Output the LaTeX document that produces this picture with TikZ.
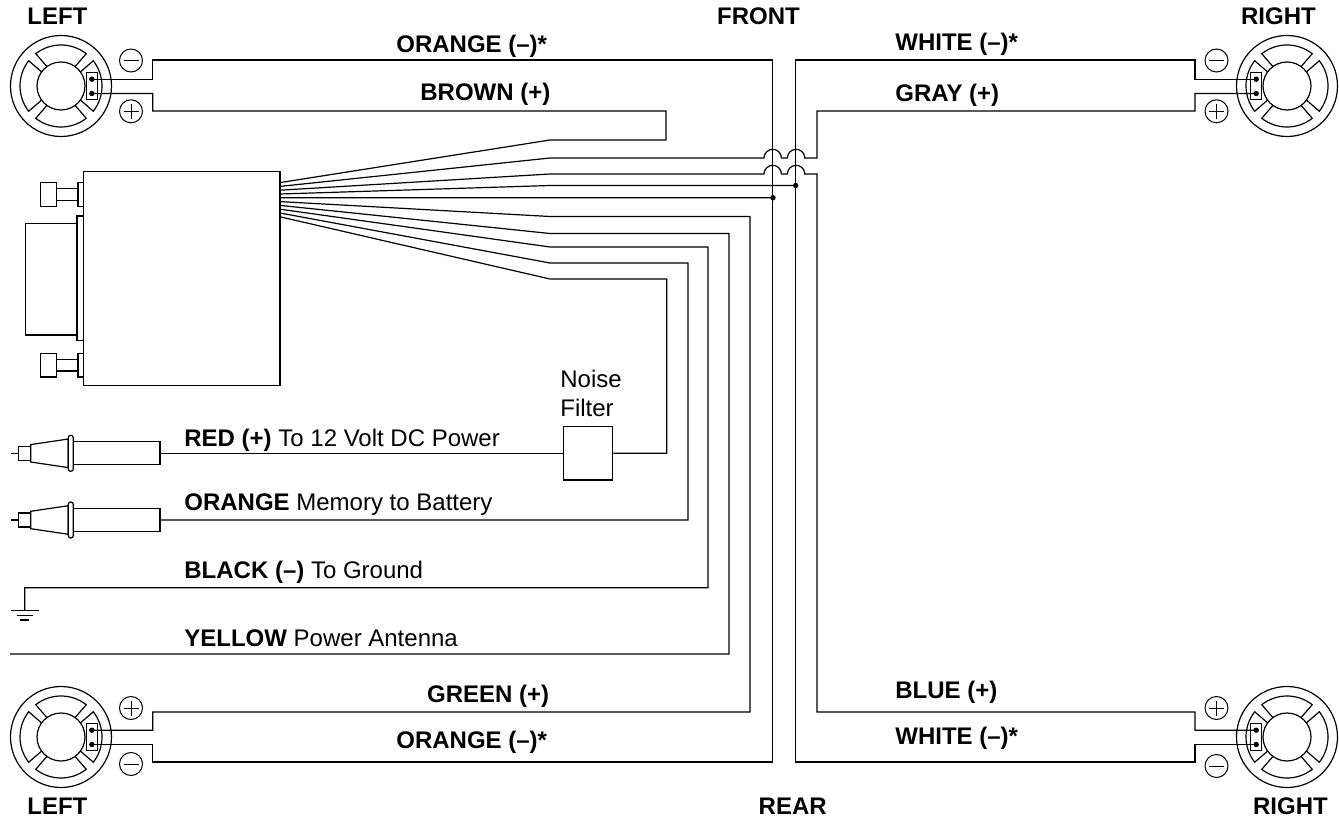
\documentclass[tikz,border=0pt]{standalone}
\usepackage{fontspec}
\setmainfont{Liberation Sans}
\usetikzlibrary{positioning}
\tikzset{wire/.style={line width=0.6pt}}
\tikzset{part/.style={line width=0.6pt, fill=white}}
\tikzset{lbl/.style={anchor=base west, inner sep=0pt, font=\fontsize{12}{14}\selectfont}}
\tikzset{polarity/.style={line width=0.5pt}}
\tikzset{speaker/.pic={
        \draw[wire] (0, 0) circle [radius = 50.5];
        \draw[wire] (0, 0) circle [radius = 24];
        \foreach \angle in {0, 90, 180, 270} {
            \draw[wire] (\angle+36:24) -- (\angle+38:41) arc [start angle=\angle+38, end angle=\angle-38, radius=41] -- (\angle-36:24);
        }
        \draw[part] (25.7, -13.3) rectangle (36.3, 13.3);
        \fill (30.8, -6.8) circle [radius = 2.7] coordinate (-a);
        \fill (30.8, 7.5) circle [radius = 2.7] coordinate (-b);
    }}
\tikzset{minus sign/.pic={
        \draw[polarity] (0, 0) circle [radius = 11.5];
        \draw[polarity] (-7.5, 0) -- (7.5, 0);
    }}
\tikzset{plus sign/.pic={
        \draw[polarity] (0, 0) circle [radius = 11.5];
        \draw[polarity] (-7.5, 0) -- (7.5, 0);
        \draw[polarity] (0, -7.5) -- (0, 7.5);
    }}
\tikzset{plug/.pic={
        \draw[wire] (-7.7, 0) -- (0, 0);
        \draw[part] (0, -7) rectangle (12.4, 7);
        \draw[part] (12.4, -8.7) -- (50, -14.3) -- (50, 14.3) -- (12.4, 8.7) -- cycle;
        \draw[part] (55, -11.5) rectangle (141.7, 11.5);
        \draw[part, rounded corners=1.2pt] (50, -18) rectangle (55, 18);
    }}
\tikzset{knob/.pic={
        \draw[part] (0, -11.7) rectangle (16, 11.7);
        \draw[part] (16, -5.7) rectangle (37.3, 5.7);
        \draw[part] (37.3, -11.7) rectangle (42.6, 11.7);
    }}
\begin{document}
\begin{tikzpicture}[x=0.5pt, y=-0.5pt]
    \useasboundingbox (0, 0) rectangle (1339, 818);

    % speakers
    \pic (fl) at (61, 86) {speaker};
    \pic (fr) [xscale=-1] at (1287, 86) {speaker};
    \pic (rl) at (61, 737) {speaker};
    \pic (rr) [xscale=-1] at (1287, 737) {speaker};
    \pic at (131, 60.5) {minus sign};
    \pic at (131, 111.3) {plus sign};
    \pic at (1216.5, 60.5) {minus sign};
    \pic at (1216.5, 111.3) {plus sign};
    \pic at (131, 708) {plus sign};
    \pic at (131, 764) {minus sign};
    \pic at (1216.5, 708) {plus sign};
    \pic at (1216.5, 766) {minus sign};

    % head unit
    \node[draw, line width=0.6pt, minimum width=98.35pt, minimum height=107pt, inner sep=0pt] (unit) at (181.65, 278.7) {};
    \draw[part] (25.7, 223.3) rectangle (77, 335);
    \draw[part] (77, 216) rectangle (83.3, 340.7);
    \pic at (40.7, 194.5) {knob};
    \pic at (40.7, 365.2) {knob};

    % noise filter and plugs
    \node[draw, line width=0.6pt, minimum width=24.7pt, minimum height=26.65pt, inner sep=0pt] (filter) at (588, 453.3) {};
    \pic at (18.3, 453.3) {plug};
    \pic at (18.3, 520) {plug};

    % fan of wires
    \coordinate (jmpa) at (764, 158);
    \coordinate (jmpb) at (764, 174);
    \draw[wire] (280, 182.6) -- (550, 140) -| (666, 111) -- (152.7, 111) |- (fl-b);
    \draw[wire] (280, 186.4) -- (550, 158) -- (jmpa) arc [start angle=180, end angle=360, radius=8.7] -- ++(6, 0) arc [start angle=180, end angle=360, radius=8.7] -- (817, 158) |- (1195, 111) |- (fr-b);
    \draw[wire] (280, 190.2) -- (550, 174) -- (jmpb) arc [start angle=180, end angle=360, radius=8.7] -- ++(6, 0) arc [start angle=180, end angle=360, radius=8.7] -- (817, 174) |- (1195, 712) |- (rr-a);
    \draw[wire] (280, 194) -- (550, 185.5) -- (795.7, 185.5) coordinate (tapr);
    \draw[wire] (280, 197.8) -- (550, 197.7) -- (773, 197.7) coordinate (tapl);
    \draw[wire] (280, 201.6) -- (550, 216.5) -| (750, 712) -- (152.7, 712) |- (rl-a);
    \draw[wire] (280, 205.4) -- (550, 233.5) -| (729, 654) -- (10, 654);
    \draw[wire] (280, 209.2) -- (550, 247) -| (708, 587.7) -| (24.7, 610.3) coordinate (gnd);
    \draw[wire] (280, 213) -- (550, 263) -| (688, 520) -- (160, 520);
    \draw[wire] (280, 216.8) -- (550, 279) -| (666.7, 453.3) -- (filter.east);
    \draw[wire] (filter.west) -- (160, 453.3);

    % common returns
    \draw[wire] (fl-a) -| (152.7, 60) -| (772.7, 762) -- (152.7, 762) |- (rl-b);
    \draw[wire] (fr-a) -| (1195, 60) -- (795.7, 60) |- (1195, 762) |- (rr-b);
    \fill (tapr) circle [radius = 2.7];
    \fill (tapl) circle [radius = 2.7];

    % ground
    \draw[wire] ([shift={(-14, 0)}]gnd) -- ([shift={(14, 0)}]gnd);
    \draw[wire] ([shift={(-8, 4.8)}]gnd) -- ([shift={(8, 4.8)}]gnd);
    \draw[wire] ([shift={(-4.5, 9.7)}]gnd) -- ([shift={(4.5, 9.7)}]gnd);

    % labels
    \node[lbl] (lfl) at (27, 24.3) {\textbf{LEFT}};
    \node[lbl] (lfront) at (716.7, 24.3) {\textbf{FRONT}};
    \node[lbl] (lfr) at (1240.7, 24.3) {\textbf{RIGHT}};
    \node[lbl] (lorangef) at (396, 52.7) {\textbf{ORANGE (–)*}};
    \node[lbl] (lbrown) at (420, 100.7) {\textbf{BROWN (+)}};
    \node[lbl] (lwhitef) at (895, 51) {\textbf{WHITE (–)*}};
    \node[lbl] (lgray) at (895, 101.7) {\textbf{GRAY (+)}};
    \node[lbl] (lred) at (184, 446.7) {\textbf{RED (+)} To 12 Volt DC Power};
    \node[lbl] (lorangem) at (184, 510) {\textbf{ORANGE} Memory to Battery};
    \node[lbl] (lblack) at (184, 578.3) {\textbf{BLACK (–)} To Ground};
    \node[lbl] (lyellow) at (184, 646.7) {\textbf{YELLOW} Power Antenna};
    \node[lbl] (lgreen) at (426.7, 702.7) {\textbf{GREEN (+)}};
    \node[lbl] (lorangeb) at (396, 748.3) {\textbf{ORANGE (–)*}};
    \node[lbl] (lblue) at (895, 698.3) {\textbf{BLUE (+)}};
    \node[lbl] (lwhiteb) at (895, 744) {\textbf{WHITE (–)*}};
    \node[lbl] (lrl) at (27, 814) {\textbf{LEFT}};
    \node[lbl] (lrear) at (758.3, 814) {\textbf{REAR}};
    \node[lbl] (lrr) at (1252.7, 814) {\textbf{RIGHT}};
    \node[lbl] (lnoise) at (560, 387.7) {Noise};
    \node[lbl] (lfilter) at (560, 416.7) {Filter};
\end{tikzpicture}
\end{document}
